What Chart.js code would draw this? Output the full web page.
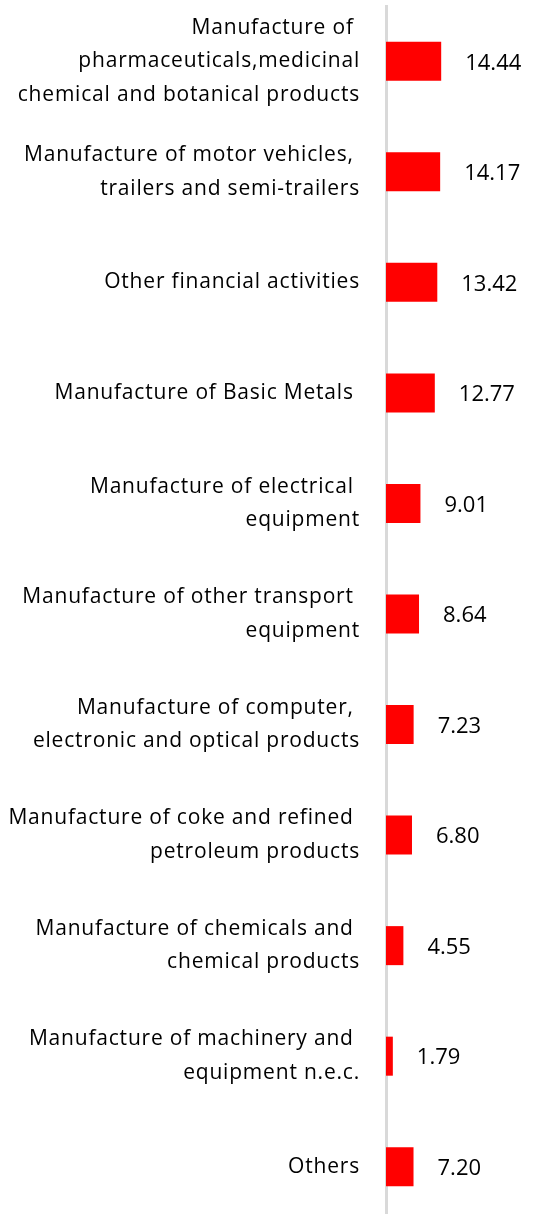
<!DOCTYPE html>
<html>
<head>
<meta charset="utf-8">
<script src="https://cdn.jsdelivr.net/npm/chart.js@4/dist/chart.umd.min.js"></script>
<style>
  html, body { margin: 0; padding: 0; background: #fff; overflow: hidden; }
  canvas { display: block; }
</style>
</head>
<body>
<canvas id="c" width="558" height="1230" style="width:558px;height:1230px"></canvas>
<script>
const categories = [
  ["Manufacture of ", "pharmaceuticals,medicinal", "chemical and botanical products"],
  ["Manufacture of motor vehicles, ", "trailers and semi-trailers"],
  ["Other financial activities"],
  ["Manufacture of Basic Metals "],
  ["Manufacture of electrical ", "equipment"],
  ["Manufacture of other transport ", "equipment"],
  ["Manufacture of computer, ", "electronic and optical products"],
  ["Manufacture of coke and refined ", "petroleum products"],
  ["Manufacture of chemicals and ", "chemical products"],
  ["Manufacture of machinery and ", "equipment n.e.c."],
  ["Others"]
];
const values = [14.44, 14.17, 13.42, 12.77, 9.01, 8.64, 7.23, 6.80, 4.55, 1.79, 7.20];
const valueLabels = ["14.44", "14.17", "13.42", "12.77", "9.01", "8.64", "7.23", "6.80", "4.55", "1.79", "7.20"];

const FONT = "'Open Sans', sans-serif";

const spacingPlugin = {
  id: 'spacing',
  beforeDraw(chart) { chart.ctx.letterSpacing = '0.8px'; }
};

const valueLabelPlugin = {
  id: 'valueLabels',
  afterDraw(chart) {
    const ctx = chart.ctx;
    const meta = chart.getDatasetMeta(0);
    ctx.save();
    ctx.letterSpacing = '0px';
    ctx.font = "22px " + FONT;
    ctx.fillStyle = '#000';
    ctx.textAlign = 'left';
    ctx.textBaseline = 'middle';
    meta.data.forEach((bar, i) => {
      ctx.fillText(valueLabels[i], bar.x + 24, bar.y + 2);
    });
    ctx.restore();
  }
};

new Chart(document.getElementById('c'), {
  type: 'bar',
  data: {
    labels: categories,
    datasets: [{
      data: values,
      backgroundColor: '#ff0000',
      borderWidth: 0,
      barPercentage: 0.353,
      categoryPercentage: 1.0
    }]
  },
  options: {
    indexAxis: 'y',
    responsive: false,
    animation: false,
    layout: { padding: { top: 6, bottom: 8, left: 0, right: 0 } },
    plugins: { legend: { display: false }, tooltip: { enabled: false } },
    scales: {
      x: {
        display: false,
        min: 0,
        max: 45
      },
      y: {
        z: 1,
        afterFit(scale) {
          scale.width = 386;
          scale.paddingTop = 0;
          scale.paddingBottom = 0;
        },
        grid: { display: false, drawTicks: false },
        border: { display: true, color: '#d9d9d9', width: 3 },
        ticks: {
          padding: 26,
          color: '#000',
          font: { family: FONT, size: 21, lineHeight: 1.6 }
        }
      }
    }
  },
  plugins: [spacingPlugin, valueLabelPlugin]
});
</script>
</body>
</html>
